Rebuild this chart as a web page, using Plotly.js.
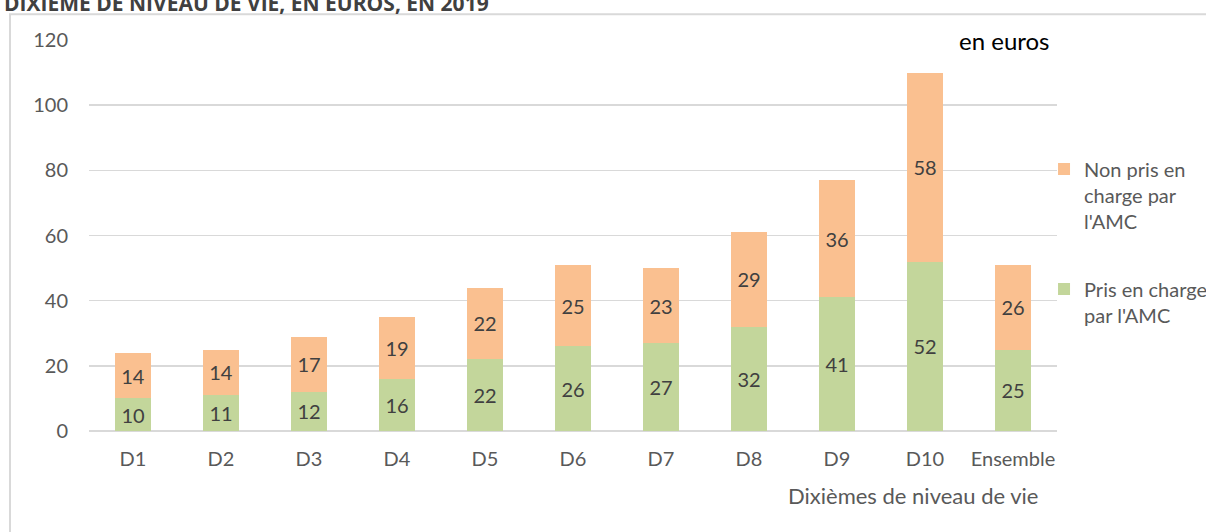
<!DOCTYPE html>
<html>
<head>
<meta charset="utf-8">
<script src="https://cdn.plot.ly/plotly-3.0.1.min.js"></script>
<style>
  body { margin: 0; background: #fff; }
  #chart { width: 1206px; height: 532px; }
</style>
</head>
<body>
<div id="chart"></div>
<script>
var deciles = ['D1', 'D2', 'D3', 'D4', 'D5', 'D6', 'D7', 'D8', 'D9', 'D10', 'Ensemble'];
var prisAMC = [10, 11, 12, 16, 22, 26, 27, 32, 41, 52, 25];
var nonPrisAMC = [14, 14, 17, 19, 22, 25, 23, 29, 36, 58, 26];
var yTicks = [0, 20, 40, 60, 80, 100, 120];

var FONT = 'Lato, "Open Sans", sans-serif';
var GRAY = '#595959';

var barTpl = {
  type: 'bar',
  textposition: 'inside',
  insidetextanchor: 'middle',
  textfont: {family: FONT, size: 20, color: '#404040'},
  hoverinfo: 'skip'
};

var green = Object.assign({}, barTpl, {
  name: "Pris en charge<br>par l'AMC",
  x: deciles,
  y: prisAMC,
  text: prisAMC.map(String),
  marker: {color: '#C3D69B'},
  legendgroup: 'a',
  legendrank: 2
});
var orange = Object.assign({}, barTpl, {
  name: "Non pris en<br>charge par<br>l'AMC",
  x: deciles,
  y: nonPrisAMC,
  text: nonPrisAMC.map(String),
  marker: {color: '#FAC090'},
  legendgroup: 'b',
  legendrank: 1
});

var layout = {
  width: 1206,
  height: 532,
  barmode: 'stack',
  bargap: 0.6,
  paper_bgcolor: '#fff',
  plot_bgcolor: '#fff',
  margin: {l: 89, r: 149, t: 40, b: 101, autoexpand: false},
  font: {family: FONT, size: 20, color: GRAY},
  showlegend: true,
  legend: {
    x: 0.9866, xanchor: 'left',
    y: 0.72, yanchor: 'top',
    traceorder: 'grouped',
    tracegroupgap: 39,
    valign: 'top',
    bgcolor: 'rgba(0,0,0,0)',
    font: {family: FONT, size: 20, color: GRAY},
    itemwidth: 30
  },
  xaxis: {
    type: 'category',
    showgrid: false,
    showline: false,
    ticks: '',
    ticklabelstandoff: 14,
    tickfont: {family: FONT, size: 20, color: GRAY}
  },
  yaxis: {
    range: [0, 120],
    tickvals: yTicks,
    showgrid: true,
    gridcolor: '#D9D9D9',
    gridwidth: 1.5,
    zeroline: true,
    zerolinecolor: '#D9D9D9',
    zerolinewidth: 1.5,
    ticks: '',
    ticklabelstandoff: 20,
    tickfont: {family: FONT, size: 20, color: GRAY}
  },
  shapes: [{
    type: 'rect', xref: 'paper', yref: 'paper',
    x0: -0.0816, x1: 1.2, y0: -0.4, y1: 1.066,
    line: {color: '#D9D9D9', width: 2},
    layer: 'below'
  }],
  annotations: [{
    text: '<b>DIXIÈME DE NIVEAU DE VIE, EN EUROS, EN 2019</b>',
    xref: 'paper', yref: 'paper', x: -0.0899, y: 1.136,
    xanchor: 'left', yanchor: 'top', showarrow: false,
    font: {family: '"Open Sans", sans-serif', size: 21, color: '#404040'}
  }, {
    text: 'en euros',
    xref: 'paper', yref: 'paper', x: 0.995, y: 1.0,
    xanchor: 'right', yanchor: 'middle', showarrow: false,
    bgcolor: '#fff',
    font: {family: FONT, size: 24, color: '#000'}
  }, {
    text: 'Dixièmes de niveau de vie',
    xref: 'paper', yref: 'paper', x: 0.982, y: -0.165,
    xanchor: 'right', yanchor: 'middle', showarrow: false,
    font: {family: FONT, size: 22, color: GRAY}
  }]
};

Plotly.newPlot('chart', [green, orange], layout, {displayModeBar: false, staticPlot: true});
</script>
</body>
</html>
